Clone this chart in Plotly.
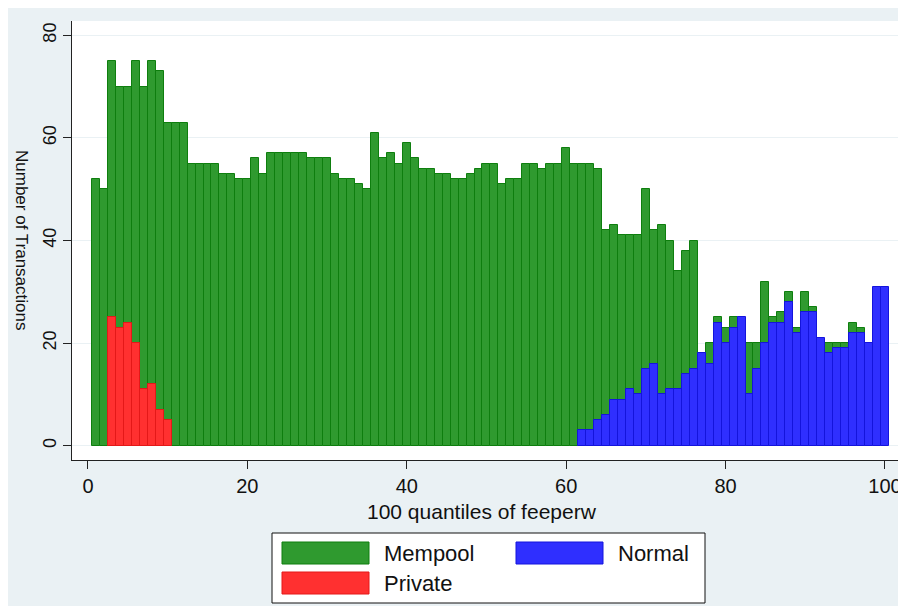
import plotly.graph_objects as go

# ---- data ----
quantiles = list(range(1, 101))

mempool = [52, 50, 75, 70, 70, 75, 70, 75, 73, 63,
           63, 63, 55, 55, 55, 55, 53, 53, 52, 52,
           56, 53, 57, 57, 57, 57, 57, 56, 56, 56,
           53, 52, 52, 51, 50, 61, 56, 57, 55, 59,
           56, 54, 54, 53, 53, 52, 52, 53, 54, 55,
           55, 51, 52, 52, 55, 55, 54, 55, 55, 58,
           55, 55, 55, 54, 42, 43, 41, 41, 41, 50,
           42, 43, 40, 34, 38, 40, None, 20, 25, 23,
           25, None, 20, 20, 32, 25, 26, 30, 23, 30,
           27, None, 20, 20, 20, 24, 23, None, None, None]

normal_q = list(range(62, 101))
normal = [3, 3, 5, 6, 9, 9, 11, 10, 15, 16,
          10, 11, 11, 14, 15, 18, 16, 24, 20, 23,
          25, 10, 15, 20, 24, 24, 28, 22, 26, 26,
          21, 18, 19, 19, 22, 22, 20, 31, 31]

private_q = list(range(3, 11))
private = [25, 23, 24, 20, 11, 12, 7, 5]

x_ticks = [0, 20, 40, 60, 80, 100]
y_ticks = [0, 20, 40, 60, 80]

# ---- styles ----
FONT = "Liberation Sans, Arial, sans-serif"
BG = "#EAF1F4"
GREEN, GREEN_LINE = "#2F9A2F", "#0E7E0E"
BLUE, BLUE_LINE = "#2F2FFF", "#1414DC"
RED, RED_LINE = "#FF3030", "#E41818"

fig = go.Figure()
fig.add_trace(go.Bar(x=quantiles, y=mempool, width=1, name="Mempool",
                     marker=dict(color=GREEN, line=dict(color=GREEN_LINE, width=1))))
fig.add_trace(go.Bar(x=normal_q, y=normal, width=1, name="Normal",
                     marker=dict(color=BLUE, line=dict(color=BLUE_LINE, width=1))))
fig.add_trace(go.Bar(x=private_q, y=private, width=1, name="Private",
                     marker=dict(color=RED, line=dict(color=RED_LINE, width=1))))

# page body adds an 8px margin; screenshot coords are offset by it
OFF = 8
W, H = 898, 598
L, R, T, B = 72 - OFF, 903 - OFF, 21 - OFF, 460 - OFF


def px(x):
    return (x - OFF - L) / (R - L)


def py(y):
    return (B - (y - OFF)) / (B - T)


shapes = [
    # legend box
    dict(type="rect", xref="paper", yref="paper", x0=px(272), x1=px(705), y0=py(533), y1=py(603),
         fillcolor="white", line=dict(color="#111111", width=1), layer="above"),
    dict(type="rect", xref="paper", yref="paper", x0=px(282), x1=px(369), y0=py(542), y1=py(564),
         fillcolor=GREEN, line=dict(color=GREEN_LINE, width=1), layer="above"),
    dict(type="rect", xref="paper", yref="paper", x0=px(516), x1=px(603), y0=py(542), y1=py(564),
         fillcolor=BLUE, line=dict(color=BLUE_LINE, width=1), layer="above"),
    dict(type="rect", xref="paper", yref="paper", x0=px(282), x1=px(369), y0=py(572), y1=py(594),
         fillcolor=RED, line=dict(color=RED_LINE, width=1), layer="above"),
]

ann_font = dict(family=FONT, size=22, color="#111111")
annotations = [
    dict(text="Mempool", xref="paper", yref="paper", x=px(382), y=py(553), xanchor="left",
         yanchor="middle", showarrow=False, font=ann_font),
    dict(text="Normal", xref="paper", yref="paper", x=px(616), y=py(553), xanchor="left",
         yanchor="middle", showarrow=False, font=ann_font),
    dict(text="Private", xref="paper", yref="paper", x=px(382), y=py(583), xanchor="left",
         yanchor="middle", showarrow=False, font=ann_font),
    dict(text="100 quantiles of feeperw", xref="paper", yref="paper", x=px(482), y=py(511),
         xanchor="center", yanchor="middle", showarrow=False, font=dict(family=FONT, size=21, color="#111111")),
    dict(text="Number of Transactions", xref="paper", yref="paper", x=px(21), y=py(240),
         xanchor="center", yanchor="middle", textangle=90, showarrow=False,
         font=dict(family=FONT, size=17, color="#111111")),
]

fig.update_layout(
    width=W, height=H,
    margin=dict(l=L, r=W - R, t=T, b=H - B, pad=0),
    paper_bgcolor=BG, plot_bgcolor="white",
    barmode="overlay", bargap=0, showlegend=False,
    shapes=shapes, annotations=annotations,
    font=dict(family=FONT, color="#111111"),
)
fig.update_xaxes(range=[-2.0, 102.26], tickmode="array", tickvals=x_ticks,
                 ticks="outside", ticklen=8, tickwidth=1, tickcolor="#222222",
                 showline=True, linecolor="#222222", linewidth=1,
                 showgrid=False, zeroline=False, tickfont=dict(size=20, family=FONT, color="#111111"))
fig.update_yaxes(range=[-2.79, 82.79], tickmode="array", tickvals=y_ticks,
                 ticks="outside", ticklen=8, tickwidth=1, tickcolor="#222222",
                 showline=True, linecolor="#222222", linewidth=1,
                 showgrid=True, gridcolor="#EAF1F4", gridwidth=1, zeroline=False,
                 tickangle=-90, tickfont=dict(size=18, family=FONT, color="#111111"))

fig.write_html("out.html")
